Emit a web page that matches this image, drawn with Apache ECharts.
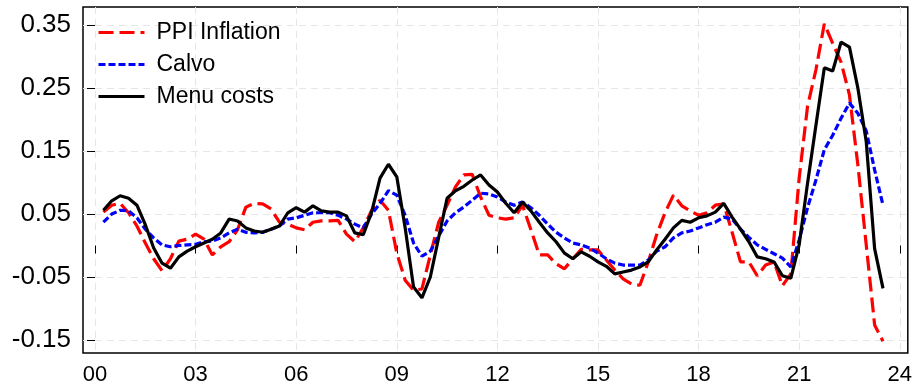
<!DOCTYPE html>
<html>
<head>
<meta charset="utf-8">
<script src="https://cdn.jsdelivr.net/npm/echarts@6/dist/echarts.min.js"></script>
<style>
html,body{margin:0;padding:0;background:#fff;}
#chart{width:915px;height:386px;}
</style>
</head>
<body>
<div id="chart"></div>
<script>
// Quarterly observations, 2000Q2 .. 2023Q3 (x in years since 2000)
const startYear = 0.25;
const step = 0.25;

const ppiInflation = [
  0.053,0.064,0.067,0.052,0.031,0.004,-0.021,-0.040,-0.021,0.007,
  0.010,0.018,0.010,-0.015,-0.002,0.006,0.025,0.061,0.067,0.066,
  0.058,0.037,0.034,0.028,0.025,0.037,0.039,0.039,0.040,0.018,
  0.006,0.028,0.056,0.072,0.056,-0.012,-0.055,-0.071,-0.069,-0.015,
  0.037,0.064,0.093,0.112,0.113,0.077,0.048,0.044,0.042,0.044,
  0.064,0.025,-0.015,-0.015,-0.029,-0.037,-0.021,-0.006,-0.007,-0.007,
  -0.023,-0.039,-0.053,-0.061,-0.063,-0.026,0.017,0.052,0.080,0.063,
  0.055,0.048,0.052,0.064,0.066,0.021,-0.026,-0.026,-0.048,-0.031,
  -0.026,-0.064,-0.045,0.107,0.221,0.279,0.352,0.321,0.291,0.239,
  0.128,0.001,-0.126,-0.152
];

const calvo = [
  0.037,0.050,0.056,0.055,0.044,0.026,0.012,0.001,-0.002,0.000,
  0.001,0.002,0.006,0.007,0.012,0.020,0.026,0.021,0.020,0.021,
  0.026,0.031,0.042,0.044,0.048,0.052,0.052,0.052,0.048,0.042,
  0.034,0.028,0.050,0.067,0.087,0.080,0.048,0.004,-0.017,-0.009,
  0.015,0.039,0.052,0.061,0.072,0.083,0.082,0.077,0.069,0.064,
  0.069,0.060,0.048,0.034,0.021,0.012,0.004,0.001,-0.004,-0.012,
  -0.021,-0.028,-0.031,-0.031,-0.031,-0.023,-0.009,-0.002,0.012,0.020,
  0.023,0.028,0.033,0.037,0.045,0.042,0.026,0.013,0.001,-0.006,
  -0.013,-0.020,-0.034,0.009,0.060,0.104,0.152,0.175,0.202,0.226,
  0.210,0.182,0.120,0.064
];

const menuCosts = [
  0.056,0.071,0.079,0.075,0.064,0.033,-0.004,-0.028,-0.036,-0.018,
  -0.009,-0.002,0.004,0.010,0.020,0.042,0.039,0.028,0.023,0.021,
  0.026,0.031,0.052,0.060,0.053,0.063,0.055,0.053,0.053,0.047,
  0.020,0.017,0.053,0.107,0.129,0.109,0.028,-0.066,-0.083,-0.050,
  0.013,0.075,0.087,0.094,0.104,0.112,0.096,0.085,0.067,0.052,
  0.069,0.055,0.037,0.020,0.006,-0.012,-0.021,-0.010,-0.017,-0.026,
  -0.033,-0.045,-0.042,-0.039,-0.034,-0.026,-0.007,0.010,0.028,0.040,
  0.037,0.044,0.047,0.053,0.067,0.045,0.026,0.006,-0.018,-0.021,
  -0.026,-0.048,-0.052,0.001,0.099,0.191,0.282,0.277,0.323,0.315,
  0.250,0.165,-0.005,-0.068
];

const seriesNames = ['PPI Inflation', 'Calvo', 'Menu costs'];
const xTickValues = [0, 3, 6, 9, 12, 15, 18, 21, 24];
const yTickValues = [-0.15, -0.05, 0.05, 0.15, 0.25, 0.35];

function toPairs(arr) {
  return arr.map((v, i) => [startYear + step * i, v]);
}

const chart = echarts.init(document.getElementById('chart'), null, {renderer: 'canvas'});
const FONT = 'Liberation Sans, Arial, Helvetica, sans-serif';

const option = {
  animation: false,
  backgroundColor: '#fff',
  grid: {
    left: 83, right: 7, top: 7, bottom: 33,
    show: true, borderColor: '#000', borderWidth: 1.5
  },
  legend: {
    data: seriesNames,
    orient: 'vertical',
    left: 97,
    top: 21,
    padding: 0,
    itemWidth: 46,
    itemHeight: 14,
    itemGap: 9,
    lineStyle: {width: 3},
    itemStyle: {opacity: 0},
    textStyle: {fontSize: 23, color: '#000', fontFamily: FONT, padding: [0, 0, 0, 7]}
  },
  xAxis: {
    type: 'value',
    min: -0.358,
    max: 24.24,
    axisLine: {show: false},
    axisTick: {show: true, customValues: xTickValues, length: 8, lineStyle: {color: '#000', width: 1}},
    axisLabel: {
      customValues: xTickValues,
      formatter: v => String(Math.round(v)).padStart(2, '0'),
      fontSize: 22, color: '#000', fontFamily: FONT, margin: 11
    },
    splitLine: {show: true, lineStyle: {color: '#e6e6e6', width: 1, type: [7, 5]}}
  },
  yAxis: {
    type: 'value',
    min: -0.1706,
    max: 0.3786,
    axisLine: {show: false},
    axisTick: {show: true, customValues: yTickValues, length: 8, lineStyle: {color: '#000', width: 1}},
    axisLabel: {
      customValues: yTickValues,
      formatter: v => v.toFixed(2),
      fontSize: 26, color: '#000', fontFamily: FONT, margin: 12
    },
    splitLine: {show: true, lineStyle: {color: '#e6e6e6', width: 1, type: [7, 5]}}
  },
  series: [
    {
      name: seriesNames[0], type: 'line', data: toPairs(ppiInflation),
      symbol: 'none', showSymbol: false, clip: false,
      lineStyle: {color: '#ff0000', width: 3.2, type: [15, 6]},
      itemStyle: {color: '#ff0000'}
    },
    {
      name: seriesNames[1], type: 'line', data: toPairs(calvo),
      symbol: 'none', showSymbol: false, clip: false,
      lineStyle: {color: '#0000ff', width: 3.2, type: [7, 3]},
      itemStyle: {color: '#0000ff'}
    },
    {
      name: seriesNames[2], type: 'line', data: toPairs(menuCosts),
      symbol: 'none', showSymbol: false, clip: false,
      lineStyle: {color: '#000000', width: 3.2},
      itemStyle: {color: '#000000'}
    }
  ]
};
chart.setOption(option);
</script>
</body>
</html>
